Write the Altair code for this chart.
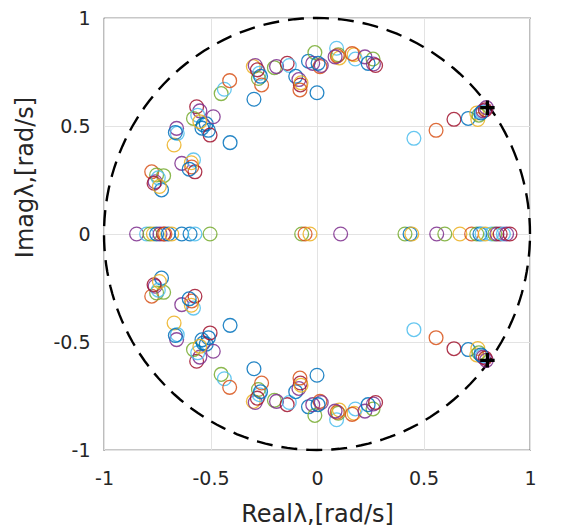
import altair as alt
import pandas as pd

# MATLAB default colour order
COLORS = {"B": "#0072BD", "O": "#D95319", "Y": "#EDB120", "P": "#7E2F8E",
          "G": "#77AC30", "C": "#4DBEEE", "R": "#A2142F"}

# upper-half complex eigenvalues (lower half are their conjugates)
up_re = [-0.776, -0.753, -0.760, -0.730, -0.720, -0.745, -0.765, -0.740,
         -0.635, -0.580, -0.588, -0.573, -0.590, -0.600,
         -0.659, -0.656, -0.671, -0.665,
         -0.565, -0.550, -0.580, -0.560, -0.534, -0.540, -0.520, -0.487, -0.502, -0.510, -0.550,
         -0.408,
         -0.450, -0.435, -0.410,
         -0.299, -0.290, -0.271, -0.275, -0.260, -0.296, -0.280, -0.265,
         -0.200, -0.190, -0.140, -0.130, -0.100, -0.085, -0.078, -0.075, -0.080,
         -0.040, -0.020, -0.010, 0.000, 0.014, 0.020, 0.005,
         0.092, 0.100, 0.105, 0.095, 0.085,
         0.174, 0.180, 0.165, 0.225, 0.263, 0.240, 0.265, 0.275,
         0.455, 0.559, 0.643, 0.710, 0.750, 0.755, 0.760, 0.775, 0.780, 0.795, 0.790, 0.770]
up_im = [0.288, 0.273, 0.242, 0.204, 0.270, 0.260, 0.235, 0.220,
         0.327, 0.343, 0.310, 0.288, 0.330, 0.300,
         0.489, 0.466, 0.412, 0.470,
         0.589, 0.570, 0.535, 0.550, 0.505, 0.490, 0.510, 0.543, 0.458, 0.480, 0.520,
         0.423,
         0.650, 0.670, 0.710,
         0.775, 0.780, 0.744, 0.720, 0.690, 0.624, 0.760, 0.730,
         0.770, 0.775, 0.790, 0.780, 0.730, 0.715, 0.690, 0.700, 0.667,
         0.800, 0.790, 0.840, 0.654, 0.775, 0.780, 0.790,
         0.860, 0.830, 0.815, 0.825, 0.820,
         0.830, 0.810, 0.835, 0.820, 0.810, 0.790, 0.787, 0.780,
         0.443, 0.480, 0.531, 0.535, 0.560, 0.530, 0.550, 0.565, 0.570, 0.585, 0.575, 0.560]
up_col = ["O", "G", "P", "B", "G", "C", "R", "Y",
          "P", "C", "O", "R", "Y", "B",
          "P", "C", "Y", "B",
          "R", "P", "G", "C", "B", "B", "B", "P", "R", "B", "Y",
          "B",
          "G", "C", "O",
          "Y", "P", "C", "G", "O", "B", "R", "B",
          "G", "P", "R", "C", "B", "P", "R", "Y", "O",
          "B", "P", "G", "B", "O", "P", "B",
          "C", "G", "Y", "O", "P",
          "Y", "C", "O", "P", "G", "B", "P", "R",
          "C", "O", "R", "B", "Y", "Y", "G", "C", "P", "P", "R", "B"]

# purely real eigenvalues
ax_re = [-0.847, -0.800, -0.784, -0.768, -0.753, -0.737, -0.720, -0.714, -0.698, -0.682,
         -0.635, -0.596, -0.573, -0.502, -0.072, -0.056, -0.033, 0.111,
         0.413, 0.437, 0.445, 0.562, 0.600, 0.671, 0.726, 0.750, 0.765, 0.775, 0.790,
         0.820, 0.835, 0.845, 0.860, 0.875, 0.890, 0.906]
ax_col = ["P", "C", "G", "Y", "B", "P", "R", "O", "B", "Y",
          "B", "B", "C", "G", "G", "O", "Y", "P",
          "G", "B", "Y", "P", "G", "Y", "O", "G", "B", "C", "Y",
          "C", "G", "P", "R", "C", "P", "R"]

# reference eigenvalues (black plus)
ref_re = [0.80, 0.80]
ref_im = [0.585, -0.585]

TICKS = [-1, -0.5, 0, 0.5, 1]

rows = []
for r, i, c in zip(up_re, up_im, up_col):
    rows.append({"re": r, "im": i, "c": c})
for r, c in zip(ax_re, ax_col):
    rows.append({"re": r, "im": 0.0, "c": c})
for r, i, c in zip(up_re, up_im, up_col):
    rows.append({"re": r, "im": -i, "c": c})
df = pd.DataFrame(rows)
ref_df = pd.DataFrame({"re": ref_re, "im": ref_im})

xs = alt.Scale(domain=[-1, 1], nice=False, zero=False)
ys = alt.Scale(domain=[-1, 1], nice=False, zero=False)

x_axis = alt.Axis(values=TICKS, title="Realλ,[rad/s]", labelExpr="'' + datum.value",
                  grid=True, ticks=False, tickSize=0, domain=False,
                  labelFont="DejaVu Sans", labelFontSize=19, labelColor="#262626",
                  labelPadding=19, labelFlush=False,
                  titleFont="DejaVu Sans", titleFontSize=24, titleFontWeight="normal",
                  titleColor="#262626", titleX=213, titleY=64, titleBaseline="middle",
                  titleAlign="center", gridColor="#e3e3e3", gridWidth=1)
y_axis = alt.Axis(values=TICKS, title="Imagλ,[rad/s]", labelExpr="'' + datum.value",
                  grid=True, ticks=False, tickSize=0, domain=False,
                  labelFont="DejaVu Sans", labelFontSize=19, labelColor="#262626",
                  labelPadding=14, labelFlush=False,
                  titleFont="DejaVu Sans", titleFontSize=24, titleFontWeight="normal",
                  titleColor="#262626", titleX=-79, titleY=159, titleBaseline="middle",
                  titleAlign="center", titleAngle=270, gridColor="#e3e3e3", gridWidth=1)

circle = alt.Chart(alt.sequence(0, 362, 2, as_="t")).transform_calculate(
    cx="cos(datum.t * PI / 180)", cy="sin(datum.t * PI / 180)"
).mark_line(color="black", strokeWidth=2.4, strokeDash=[16, 9]).encode(
    x=alt.X("cx:Q", scale=xs, axis=x_axis),
    y=alt.Y("cy:Q", scale=ys, axis=y_axis),
    order="t:Q",
)

pts = alt.Chart(df).mark_point(shape="circle", filled=False, size=190, strokeWidth=1.3,
                               opacity=0.85).encode(
    x=alt.X("re:Q", scale=xs, axis=x_axis),
    y=alt.Y("im:Q", scale=ys, axis=y_axis),
    color=alt.Color("c:N", scale=alt.Scale(domain=list(COLORS.keys()),
                                           range=list(COLORS.values())), legend=None),
)

plus = alt.Chart(ref_df).mark_point(shape="M-1,0L1,0M0,-1L0,1", filled=False, size=210,
                                    strokeWidth=3.2, color="black", opacity=1).encode(
    x=alt.X("re:Q", scale=xs, axis=x_axis),
    y=alt.Y("im:Q", scale=ys, axis=y_axis),
)

chart = alt.layer(circle, pts, plus).properties(
    width=426, height=432,
    autosize=alt.AutoSizeParams(type="none"),
    padding={"left": 104, "top": 18, "right": 37, "bottom": 76},
    background="white",
).configure_view(stroke="#262626", strokeWidth=1.2, fill="white")

chart.save("out.html", embed_options={"renderer": "svg", "actions": False})
